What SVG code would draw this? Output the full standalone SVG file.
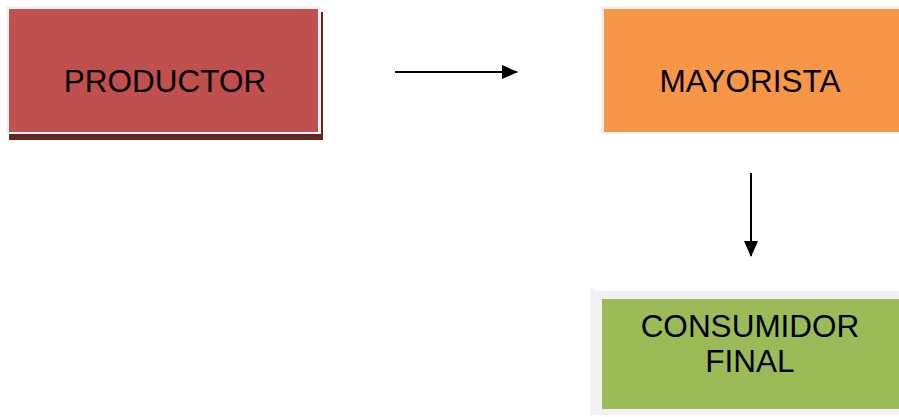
<svg xmlns="http://www.w3.org/2000/svg" width="899" height="417" viewBox="0 0 899 417">
<style>
.lbl{font-family:"Liberation Sans",Arial,sans-serif;font-size:31.5px;fill:#000;text-anchor:middle}
.frame{fill:#f2f2f2}
.conn{stroke:#000;stroke-width:2;fill:none}
</style>
<defs>
<marker id="ah" markerWidth="16" markerHeight="14" refX="15" refY="7" orient="auto" markerUnits="userSpaceOnUse">
<path d="M0,0 L16,7 L0,14 Z" fill="#000"/>
</marker>
</defs>
<rect width="899" height="417" fill="#fff"/>
<g id="productor">
<rect x="9" y="12" width="314" height="128" fill="#632523"/>
<rect x="6" y="6" width="315" height="128" class="frame"/>
<rect x="9" y="9" width="309" height="123" fill="#c0504d"/>
<text class="lbl" x="165" y="92">PRODUCTOR</text>
</g>
<g id="mayorista">
<rect x="601" y="6" width="298" height="128" class="frame"/>
<rect x="604" y="9" width="295" height="123" fill="#f79646"/>
<text class="lbl" x="750" y="92">MAYORISTA</text>
</g>
<g id="consumidor">
<rect x="590" y="289" width="4" height="6" class="frame"/>
<rect x="590" y="291" width="309" height="124" class="frame"/>
<rect x="602" y="299" width="297" height="110" fill="#9bbb59"/>
<text class="lbl" x="750" y="337">CONSUMIDOR</text>
<text class="lbl" x="750" y="372">FINAL</text>
</g>
<g id="connectors">
<line class="conn" x1="395" y1="72" x2="517" y2="72" marker-end="url(#ah)"/>
<line class="conn" x1="751" y1="173" x2="751" y2="256" marker-end="url(#ah)"/>
</g>
</svg>
